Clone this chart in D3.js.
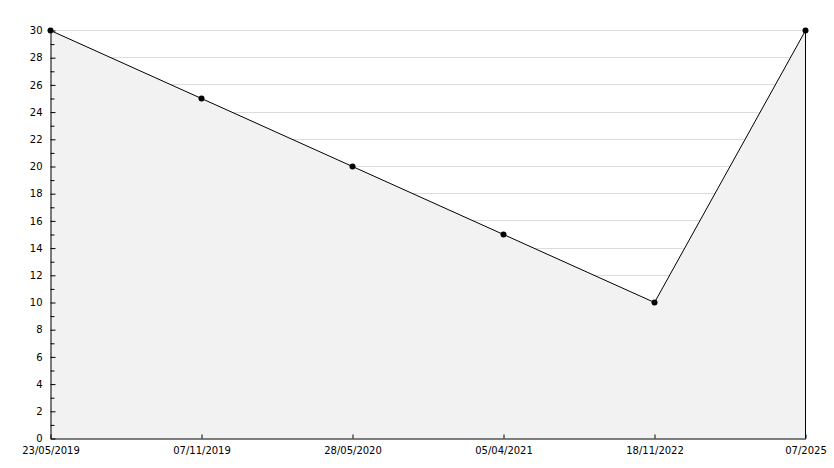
<!DOCTYPE html>
<html>
<head>
<meta charset="utf-8">
<script src="https://cdn.jsdelivr.net/npm/d3@7"></script>
<style>
html,body{margin:0;padding:0;background:#fff;}
svg{display:block;}
text{font-family:"DejaVu Sans",sans-serif;font-size:10px;fill:#000;}
</style>
</head>
<body>
<svg id="chart" width="834" height="468"></svg>
<script>
const categories = ["23/05/2019","07/11/2019","28/05/2020","05/04/2021","18/11/2022","07/2025"];
const values = [30,25,20,15,10,30];
const yMajorTicks = [0,2,4,6,8,10,12,14,16,18,20,22,24,26,28,30];
const yMinorTicks = [1,3,5,7,9,11,13,15,17,19,21,23,25,27,29];

(function(){
const svg = d3.select("#chart");
const pLeft = 50.5, pRight = 805.5, pTop = 30.5, pBottom = 438.5;

const x = d3.scalePoint().domain(categories).range([pLeft, pRight]);
const y = d3.scaleLinear().domain([0,30]).range([pBottom, pTop]);
const data = categories.map((c,i)=>({c, v: values[i]}));

// gridlines
svg.append("g").selectAll("line").data(yMajorTicks.filter(d=>d>0)).join("line")
  .attr("x1", pLeft).attr("x2", pRight)
  .attr("y1", d=>Math.round(y(d)-0.5)+0.5).attr("y2", d=>Math.round(y(d)-0.5)+0.5)
  .attr("stroke", "#dcdcdc").attr("stroke-width", 1);

// area
const area = d3.area().x(d=>x(d.c)).y0(pBottom).y1(d=>y(d.v));
svg.append("path").datum(data).attr("d", area)
  .attr("fill", "#f2f2f2").attr("stroke", "none");

// right edge
svg.append("line").attr("x1", pRight).attr("x2", pRight)
  .attr("y1", y(values[values.length-1])).attr("y2", pBottom)
  .attr("stroke", "#000");

// line
const line = d3.line().x(d=>x(d.c)).y(d=>y(d.v));
svg.append("path").datum(data).attr("d", line)
  .attr("fill", "none").attr("stroke", "#000").attr("stroke-width", 1);

// y axis
const yAxis = d3.axisLeft(y).tickValues(yMajorTicks).tickSizeInner(-5).tickSizeOuter(0).tickPadding(8);
const gy = svg.append("g").attr("transform", `translate(${pLeft},0)`).call(yAxis);
gy.select(".domain").attr("stroke", "#000");
gy.selectAll(".tick line").attr("stroke", "#000");
gy.selectAll("text").style("font-family", "DejaVu Sans").style("font-size", "10px");
const yMinor = d3.axisLeft(y).tickValues(yMinorTicks).tickSizeInner(-4).tickSizeOuter(0).tickFormat("");
const gym = svg.append("g").attr("transform", `translate(${pLeft},0)`).call(yMinor);
gym.select(".domain").remove();
gym.selectAll(".tick line").attr("stroke", "#000");

// x axis
const xAxis = d3.axisBottom(x).tickSizeInner(-4).tickSizeOuter(0).tickPadding(8);
const gx = svg.append("g").attr("transform", `translate(0,${pBottom})`).call(xAxis);
gx.select(".domain").attr("stroke", "#000");
gx.selectAll(".tick line").attr("stroke", "#000");
gx.selectAll("text").style("font-family", "DejaVu Sans").style("font-size", "10px");

// markers
svg.append("g").selectAll("circle").data(data).join("circle")
  .attr("cx", d=>x(d.c)).attr("cy", d=>y(d.v)).attr("r", 3)
  .attr("fill", "#000");
})();
</script>
</body>
</html>
